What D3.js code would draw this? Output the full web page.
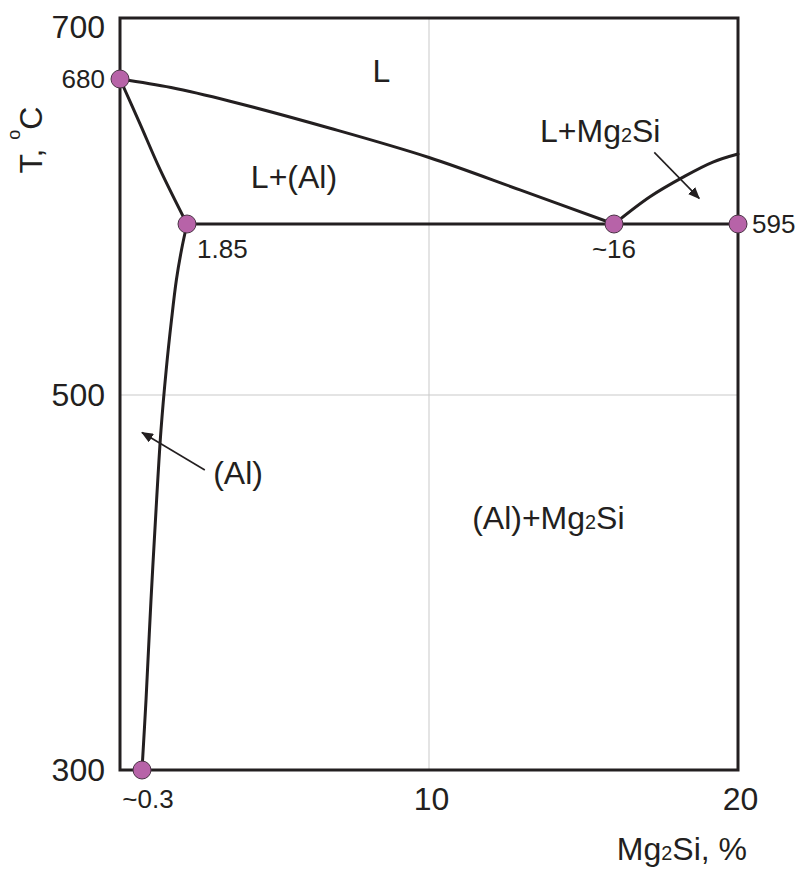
<!DOCTYPE html>
<html>
<head>
<meta charset="utf-8">
<script src="https://cdn.jsdelivr.net/npm/d3@7"></script>
<style>
  body { margin: 0; background: #fff; }
  text { font-family: "Liberation Sans", Arial, Helvetica, sans-serif; fill: #231f20; }
</style>
</head>
<body>
<svg id="chart" width="800" height="873"></svg>
<script>
// Al–Mg2Si quasi-binary phase diagram (schematic)

// Axis ticks
const tempTicks = [300, 500, 700];
const compTicks = [10, 20];

// Phase boundaries: [Mg2Si, wt.%; temperature, °C]
const liquidusAl    = [[0, 680], [1.3, 675], [3.3, 667], [6.7, 651], [10, 634], [12.95, 615], [16, 595]];
const solidusAl     = [[0, 680], [0.27, 654], [0.92, 627], [1.85, 595]];
const solvusAl      = [[1.85, 595], [1.66, 580.6], [1.485, 564], [1.316, 541.7], [1.134, 514], [0.954, 481.3],
                       [0.803, 444], [0.61, 390.7], [0.438, 337.3], [0.3, 300]];
const liquidusMg2Si = [[16, 595], [17.16, 611], [18.23, 622.5], [19.19, 631.3], [20, 636]];
const eutecticLine  = [[1.85, 595], [20, 595]];

// Characteristic points
const pointComp   = [0, 1.85, 16, 20, 0.3];
const pointTemp   = [680, 595, 595, 595, 300];
const pointLabels = ["680", "1.85", "~16", "595", "~0.3"];

// Phase fields and where their names sit (composition, temperature)
const fieldNames = ["L", "L+(Al)", "L+Mg2Si", "(Al)", "(Al)+Mg2Si"];
const fieldComp  = [8.1, 4.0, 13.6, 2.73, 11.4];
const fieldTemp  = [678, 616, 643, 452.5, 428.5];

// Leader arrows (from -> to, composition / temperature)
const arrowFrom = [[2.45, 460], [17.3, 637]];
const arrowTo   = [[0.3, 480], [18.75, 610]];

const svg = d3.select("#chart");
const ink = "#231f20";
const plotL = 120, plotR = 738, plotT = 18, plotB = 770;

// Schematic, non-uniform axes: the narrow solid-solution range near pure Al is stretched
const x = d3.scaleLinear()
  .domain([0, 0.3, 1.85, 10, 16, 20])
  .range([plotL, 142, 187, 429, 614, plotR]);
const y = d3.scaleLinear()
  .domain([300, 500, 595, 680, 700])
  .range([plotB, 395, 224, 79, plotT]);

// Light grid lines at the interior ticks
svg.append("g").selectAll("line")
  .data(compTicks.filter(d => d < 20))
  .join("line")
  .attr("x1", d => x(d)).attr("x2", d => x(d))
  .attr("y1", plotT).attr("y2", plotB)
  .attr("stroke", "#c9c9c9").attr("stroke-width", 1);
svg.append("g").selectAll("line")
  .data(tempTicks.filter(d => d > 300 && d < 700))
  .join("line")
  .attr("x1", plotL).attr("x2", plotR)
  .attr("y1", d => y(d)).attr("y2", d => y(d))
  .attr("stroke", "#c9c9c9").attr("stroke-width", 1);

// Frame
svg.append("rect")
  .attr("x", plotL).attr("y", plotT)
  .attr("width", plotR - plotL).attr("height", plotB - plotT)
  .attr("fill", "none").attr("stroke", ink).attr("stroke-width", 3);

// Axes (labels only, the frame carries the lines)
const yAxis = svg.append("g")
  .attr("transform", `translate(${plotL},0)`)
  .call(d3.axisLeft(y).tickValues(tempTicks).tickSize(0).tickPadding(15));
yAxis.select(".domain").remove();
yAxis.selectAll("text")
  .attr("font-size", 32)
  .attr("dy", d => y(d) < 30 ? "0.6em" : "0.34em")
  .attr("font-family", null);

const xAxis = svg.append("g")
  .attr("transform", `translate(0,${plotB})`)
  .call(d3.axisBottom(x).tickValues(compTicks).tickSize(0).tickPadding(17));
xAxis.select(".domain").remove();
xAxis.selectAll("text")
  .attr("font-size", 32)
  .attr("dx", 2)
  .attr("font-family", null);

// Phase boundary curves
const line = d3.line()
  .x(d => x(d[0])).y(d => y(d[1]))
  .curve(d3.curveCatmullRom.alpha(0.5));
[liquidusAl, solidusAl, solvusAl, liquidusMg2Si].forEach(curve => {
  svg.append("path")
    .datum(curve)
    .attr("d", line)
    .attr("fill", "none")
    .attr("stroke", ink)
    .attr("stroke-width", 3)
    .attr("stroke-linecap", "round");
});
svg.append("path")
  .datum(eutecticLine)
  .attr("d", d3.line().x(d => x(d[0])).y(d => y(d[1])))
  .attr("fill", "none")
  .attr("stroke", ink)
  .attr("stroke-width", 3);

// Arrow heads
svg.append("defs").append("marker")
  .attr("id", "head")
  .attr("viewBox", "0 0 12 10")
  .attr("refX", 11).attr("refY", 5)
  .attr("markerWidth", 12).attr("markerHeight", 10)
  .attr("markerUnits", "userSpaceOnUse")
  .attr("orient", "auto")
  .append("path")
  .attr("d", "M0,0 L12,5 L0,10 Z")
  .attr("fill", ink);

svg.append("g").selectAll("line")
  .data(d3.range(arrowFrom.length))
  .join("line")
  .attr("x1", i => x(arrowFrom[i][0])).attr("y1", i => y(arrowFrom[i][1]))
  .attr("x2", i => x(arrowTo[i][0])).attr("y2", i => y(arrowTo[i][1]))
  .attr("stroke", ink).attr("stroke-width", 1.6)
  .attr("marker-end", "url(#head)");

// Characteristic points
svg.append("g").selectAll("circle")
  .data(d3.range(pointComp.length))
  .join("circle")
  .attr("cx", i => x(pointComp[i]))
  .attr("cy", i => y(pointTemp[i]))
  .attr("r", 9)
  .attr("fill", "#b763a8")
  .attr("stroke", "#4a3345")
  .attr("stroke-width", 1);

// Point labels: placement relative to each point
const labelPlace = {
  "680":  { dx: -15, dy: 9,  anchor: "end" },
  "1.85": { dx: 10,  dy: 34, anchor: "start" },
  "~16":  { dx: 0,   dy: 34, anchor: "middle" },
  "595":  { dx: 14,  dy: 9,  anchor: "start" },
  "~0.3": { dx: 6,   dy: 38, anchor: "middle" }
};
svg.append("g").selectAll("text")
  .data(d3.range(pointLabels.length))
  .join("text")
  .attr("x", i => x(pointComp[i]) + labelPlace[pointLabels[i]].dx)
  .attr("y", i => y(pointTemp[i]) + labelPlace[pointLabels[i]].dy)
  .attr("text-anchor", i => labelPlace[pointLabels[i]].anchor)
  .attr("font-size", 26)
  .text(i => pointLabels[i]);

// Text with a small "2" in Mg2Si
function richText(sel, str) {
  str.split(/(Mg2Si)/).forEach(part => {
    if (part === "Mg2Si") {
      sel.append("tspan").text("Mg");
      sel.append("tspan").attr("font-size", "0.62em").text("2");
      sel.append("tspan").text("Si");
    } else if (part) {
      sel.append("tspan").text(part);
    }
  });
}

// Phase field names
fieldNames.forEach((name, i) => {
  const t = svg.append("text")
    .attr("x", x(fieldComp[i]))
    .attr("y", y(fieldTemp[i]))
    .attr("font-size", 32);
  richText(t, name);
});

// Axis titles
const xTitle = svg.append("text")
  .attr("x", 747).attr("y", 860)
  .attr("text-anchor", "end")
  .attr("font-size", 32);
richText(xTitle, "Mg2Si, %");

const yTitle = svg.append("text")
  .attr("transform", "translate(42,140) rotate(-90)")
  .attr("text-anchor", "middle")
  .attr("font-size", 32);
yTitle.append("tspan").text("T, ");
yTitle.append("tspan").attr("font-size", 18).attr("dy", -22).text("o");
yTitle.append("tspan").attr("dy", 22).text("C");
</script>
</body>
</html>
